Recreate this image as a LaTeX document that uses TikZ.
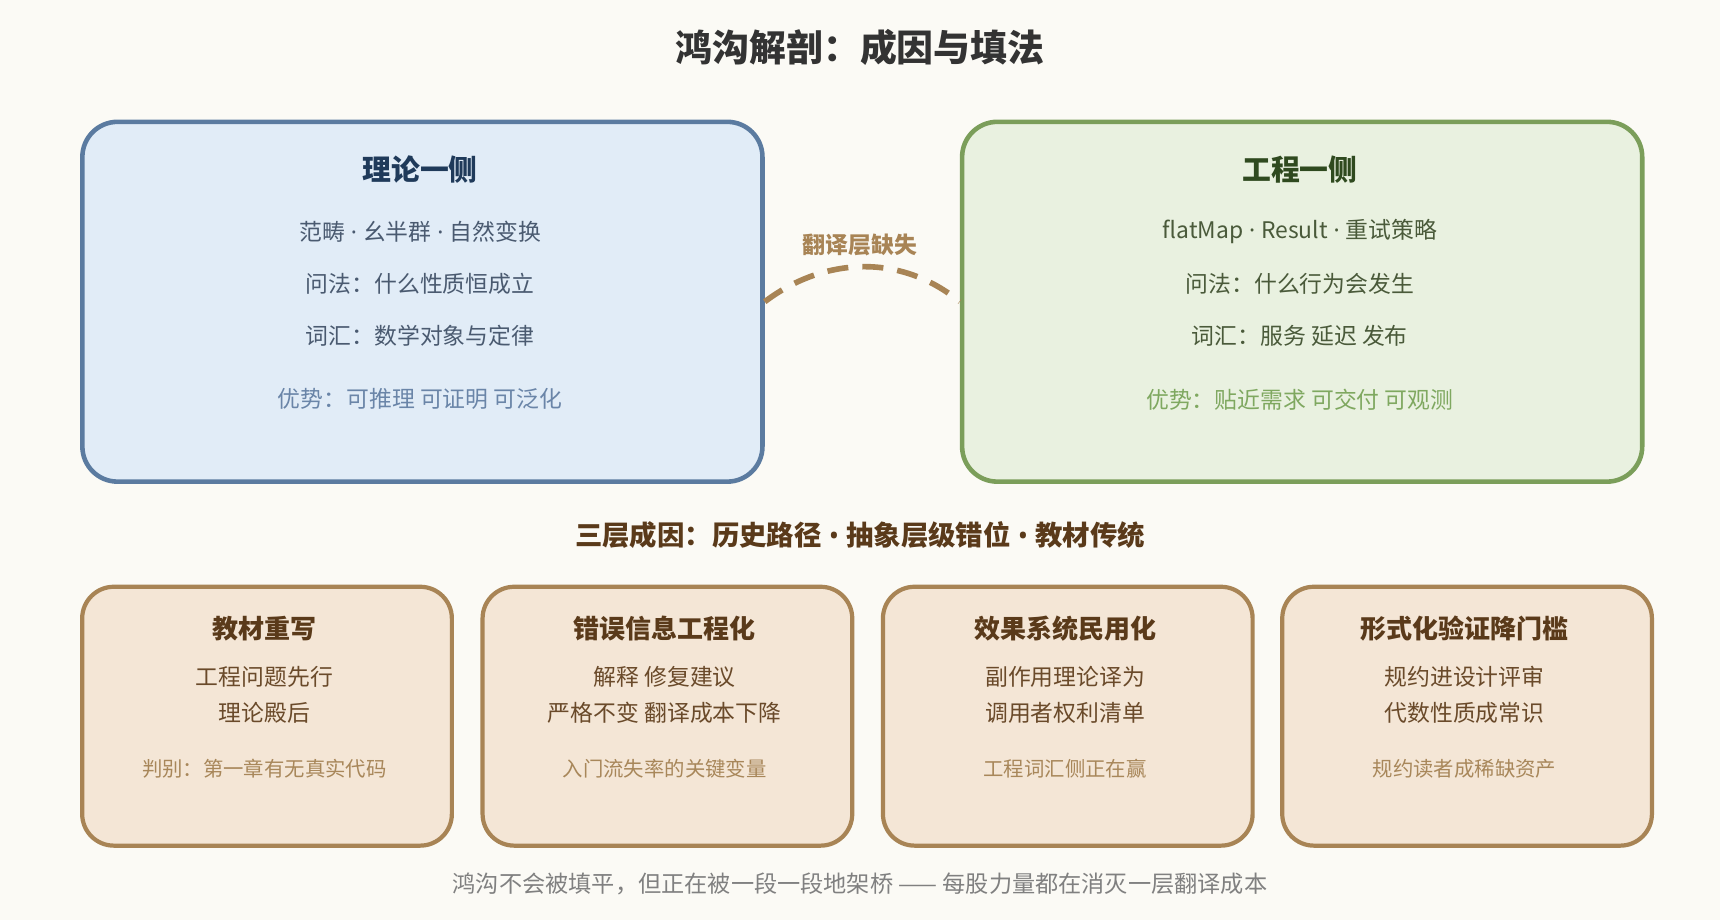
\documentclass[tikz,border=0pt]{standalone}
\usepackage{fontspec}
\setmainfont{Noto Sans CJK SC}
\newfontfamily\latinfont{Noto Sans}
\newcommand{\md}{{\latinfont\ ·\ }}
\newcommand{\bd}{{\latinfont\ •\ }}
\usetikzlibrary{positioning}
\definecolor{bgcol}{HTML}{FBFAF5}
\definecolor{theofill}{HTML}{E1ECF7}
\definecolor{theoline}{HTML}{5B7BA0}
\definecolor{theohead}{HTML}{1F3A5A}
\definecolor{theotext}{HTML}{4A5A70}
\definecolor{theonote}{HTML}{6A85A8}
\definecolor{engfill}{HTML}{E9F1E0}
\definecolor{engline}{HTML}{7B9E5A}
\definecolor{enghead}{HTML}{2F4A1F}
\definecolor{engtext}{HTML}{4A5A3A}
\definecolor{engnote}{HTML}{7FA860}
\definecolor{causefill}{HTML}{F4E6D6}
\definecolor{causeline}{HTML}{A88455}
\definecolor{causehead}{HTML}{5A3A1A}
\definecolor{causetext}{HTML}{6A4A2A}
\definecolor{causenote}{HTML}{A8875A}

\begin{document}
\begin{tikzpicture}[x=0.01097cm,y=-0.01097cm,
    side box/.style={draw,rounded corners=10pt,line width=1.3pt,minimum width=620*0.01097cm,minimum height=328*0.01097cm,anchor=north west},
    cause box/.style={draw=causeline,fill=causefill,rounded corners=9pt,line width=1.2pt,minimum width=337*0.01097cm,minimum height=236*0.01097cm,anchor=north west},
    head/.style={font=\fontsize{8.2}{10}\selectfont\bfseries},
    line/.style={font=\fontsize{6.5}{8}\selectfont},
    small/.style={font=\fontsize{5.8}{7}\selectfont}]
  \fill[bgcol] (0,0) rectangle (1568,839);
  \useasboundingbox (0,0) rectangle (1568,839);

  \node[font=\fontsize{10.5}{13}\selectfont\bfseries,text=black!80] (title) at (784,43) {鸿沟解剖：成因与填法};

  % two sides
  \node[side box,draw=theoline,fill=theofill] (theory) at (73,109) {};
  \node[side box,draw=engline,fill=engfill] (eng) at (875,109) {};
  \node[head,text=theohead] at (383,155) {理论一侧};
  \node[line,text=theotext] at (383,211) {范畴\md 幺半群\md 自然变换};
  \node[line,text=theotext] at (383,259) {问法：什么性质恒成立};
  \node[line,text=theotext] at (383,306) {词汇：数学对象与定律};
  \node[line,text=theonote] at (383,364) {优势：可推理 可证明 可泛化};
  \node[head,text=enghead] at (1185,155) {工程一侧};
  \node[line,text=engtext] at (1185,211) {flatMap\md Result\md 重试策略};
  \node[line,text=engtext] at (1185,259) {问法：什么行为会发生};
  \node[line,text=engtext] at (1185,306) {词汇：服务 延迟 发布};
  \node[line,text=engnote] at (1185,364) {优势：贴近需求 可交付 可观测};

  % gap
  \draw[causeline,line width=1.6pt,dash pattern=on 6pt off 4pt]
    (theory.east) .. controls (750,235) and (820,230) .. (eng.west);
  \node[font=\fontsize{6.5}{8}\selectfont\bfseries,text=causeline] (gap) at (784,223) {翻译层缺失};

  \node[font=\fontsize{7.8}{10}\selectfont\bfseries,text=causehead] (causes) at (784,488) {三层成因：历史路径\bd 抽象层级错位\bd 教材传统};

  % four remedies
  \foreach \x/\name/\h/\a/\b/\n in {
      73/book/教材重写/工程问题先行/理论殿后/判别：第一章有无真实代码,
      438/error/错误信息工程化/解释 修复建议/严格不变 翻译成本下降/入门流失率的关键变量,
      803/effect/效果系统民用化/副作用理论译为/调用者权利清单/工程词汇侧正在赢,
      1167/formal/形式化验证降门槛/规约进设计评审/代数性质成常识/规约读者成稀缺资产}{
    \node[cause box] (\name) at (\x,533) {};
    \node[font=\fontsize{7.4}{9}\selectfont\bfseries,text=causehead] at (\x+168,573) {\h};
    \node[line,text=causetext] at (\x+168,617) {\a};
    \node[line,text=causetext] at (\x+168,650) {\b};
    \node[small,text=causenote] at (\x+168,701) {\n};
  }

  \node[font=\fontsize{6.6}{8}\selectfont,text=black!50] (footer) at (784,806) {鸿沟不会被填平，但正在被一段一段地架桥 —— 每股力量都在消灭一层翻译成本};
\end{tikzpicture}
\end{document}
